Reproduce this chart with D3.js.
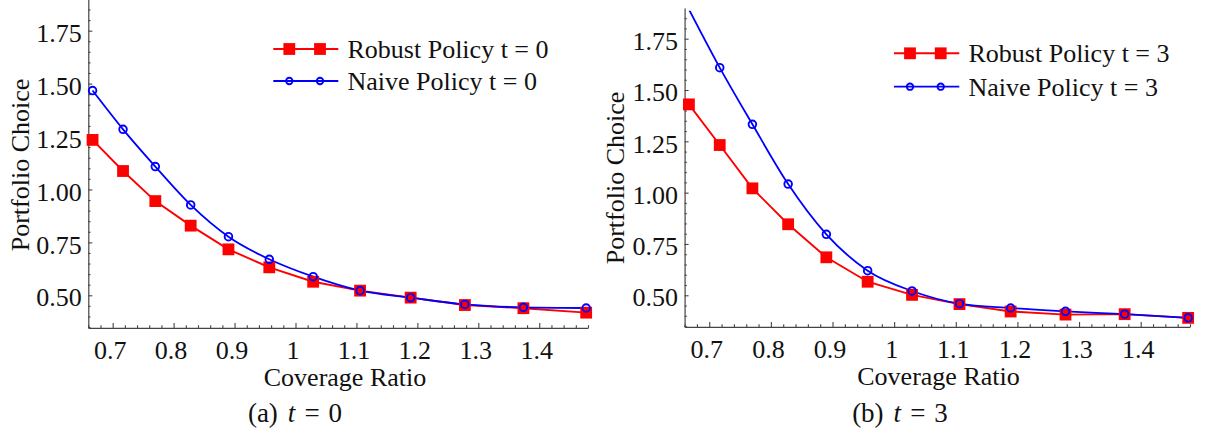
<!DOCTYPE html>
<html>
<head>
<meta charset="utf-8">
<script src="https://cdn.jsdelivr.net/npm/d3@7"></script>
<style>
  html, body { margin: 0; padding: 0; background: #fff; }
  svg { display: block; }
</style>
</head>
<body>
<svg id="chart" width="1206" height="437"></svg>
<script>
// Coverage ratio grid shared by both panels
const coverageRatio = [0.667, 0.717, 0.770, 0.828, 0.890, 0.957, 1.029, 1.106, 1.189, 1.278, 1.374, 1.477];

// Portfolio choice at t = 0
const robustT0 = [1.234, 1.087, 0.945, 0.829, 0.717, 0.632, 0.564, 0.522, 0.489, 0.454, 0.439, 0.418];
const naiveT0  = [1.467, 1.284, 1.108, 0.927, 0.777, 0.670, 0.588, 0.522, 0.489, 0.457, 0.443, 0.440];

// Portfolio choice at t = 3
const robustT3 = [1.430, 1.232, 1.021, 0.846, 0.685, 0.566, 0.502, 0.457, 0.421, 0.406, 0.408, 0.390];
const naiveT3  = [1.893, 1.609, 1.333, 1.042, 0.797, 0.620, 0.521, 0.459, 0.438, 0.422, 0.408, 0.390];

// Axis ticks
const xTickValues = [0.7, 0.8, 0.9, 1.0, 1.1, 1.2, 1.3, 1.4];
const xTickLabels = ["0.7", "0.8", "0.9", "1", "1.1", "1.2", "1.3", "1.4"];
const yTickValues = [0.50, 0.75, 1.00, 1.25, 1.50, 1.75];
const yTickLabels = ["0.50", "0.75", "1.00", "1.25", "1.50", "1.75"];

const xDomain = [0.66, 1.48];
const yDomain = [0.346, 1.9];
const yCeiling = 1.886;   // curves are clipped above this value

const SERIF = '"Liberation Serif", "Times New Roman", Times, serif';
const AXIS_COLOR = "#444";
const TEXT_COLOR = "#111";
const RED = "#ff0000";
const BLUE = "#0000ff";
const FONT_SIZE = 26;

const panels = [
  {
    id: "a", t: "0", robust: robustT0, naive: naiveT0,
    xRange: [88.3, 588.0], yRange: [327.9, -1.1],
    yTitle: { x: 28.5, y: 165 }, xTitle: { x: 345, y: 385.5 }, caption: { x: 295, y: 422 },
    legend: { x0: 273.3, x1: 338.3, marks: [289.3, 320.0], rows: [49, 81], textX: 347.5 }
  },
  {
    id: "b", t: "3", robust: robustT3, naive: naiveT3,
    xRange: [684.6, 1190.0], yRange: [326.9, 7.9],
    yTitle: { x: 624, y: 178 }, xTitle: { x: 938.5, y: 384.5 }, caption: { x: 900, y: 422 },
    legend: { x0: 894.0, x1: 959.3, marks: [910.0, 940.7], rows: [53.3, 86.7], textX: 968.5 }
  }
];

const svg = d3.select("#chart");
const defs = svg.append("defs");

function squareAt(sel, cx, cy, size) {
  sel.append("rect")
    .attr("x", cx - size / 2).attr("y", cy - size / 2)
    .attr("width", size).attr("height", size)
    .attr("fill", RED);
}

function circleAt(sel, cx, cy, r) {
  sel.append("circle")
    .attr("cx", cx).attr("cy", cy).attr("r", r)
    .attr("fill", "none").attr("stroke", BLUE).attr("stroke-width", 1.9);
}

function styleAxis(g) {
  g.attr("font-family", SERIF).attr("font-size", FONT_SIZE);
  g.select(".domain").attr("stroke", AXIS_COLOR).attr("stroke-width", 1.2);
  g.selectAll(".tick line").attr("stroke", AXIS_COLOR).attr("stroke-width", 1.1);
  g.selectAll(".tick text").attr("fill", TEXT_COLOR);
}

panels.forEach((p) => {
  const x = d3.scaleLinear().domain(xDomain).range(p.xRange);
  const y = d3.scaleLinear().domain(yDomain).range(p.yRange);
  const g = svg.append("g").attr("class", "panel-" + p.id);

  const yBottom = p.yRange[0];
  const xLeft = p.xRange[0];

  // minor ticks
  const xMinor = d3.range(0.66, 1.481, 0.02).filter(v => !xTickValues.some(t => Math.abs(t - v) < 1e-6));
  const yMinor = d3.range(0.35, 1.851, 0.05).filter(v => !yTickValues.some(t => Math.abs(t - v) < 1e-6));

  g.append("g").attr("transform", `translate(0,${yBottom})`)
    .call(d3.axisBottom(x).tickValues(xMinor).tickSize(-2.7).tickSizeOuter(0).tickFormat(() => ""))
    .call(s => { s.select(".domain").remove(); s.selectAll(".tick line").attr("stroke", AXIS_COLOR).attr("stroke-width", 1.1); });

  g.append("g").attr("transform", `translate(${xLeft},0)`)
    .call(d3.axisLeft(y).tickValues(yMinor).tickSize(-2.2).tickSizeOuter(0).tickFormat(() => ""))
    .call(s => { s.select(".domain").remove(); s.selectAll(".tick line").attr("stroke", AXIS_COLOR).attr("stroke-width", 1.1); });

  // major axes
  g.append("g").attr("transform", `translate(0,${yBottom})`)
    .call(d3.axisBottom(x).tickValues(xTickValues).tickSize(-5).tickSizeOuter(0)
      .tickFormat((d, i) => xTickLabels[i]))
    .call(styleAxis)
    .call(s => s.selectAll(".tick text").attr("y", 31.3).attr("dy", 0).attr("dx", -3));

  g.append("g").attr("transform", `translate(${xLeft},0)`)
    .call(d3.axisLeft(y).tickValues(yTickValues).tickSize(-4).tickSizeOuter(0).tickPadding(6.5)
      .tickFormat((d, i) => yTickLabels[i]))
    .call(styleAxis)
    .call(s => s.selectAll(".tick text").attr("dy", "0.41em"));

  // clip region for the curves
  const clipId = "clip-" + p.id;
  defs.append("clipPath").attr("id", clipId)
    .append("rect")
    .attr("x", p.xRange[0]).attr("y", y(yCeiling))
    .attr("width", p.xRange[1] - p.xRange[0] + 10)
    .attr("height", yBottom - y(yCeiling) + 10);

  const robustPts = coverageRatio.map((c, i) => [c, p.robust[i]]);
  const naivePts = coverageRatio.map((c, i) => [c, p.naive[i]]);

  const plot = g.append("g").attr("clip-path", `url(#${clipId})`);

  plot.append("path")
    .attr("d", d3.line().x(d => x(d[0])).y(d => y(d[1]))(robustPts))
    .attr("fill", "none").attr("stroke", RED).attr("stroke-width", 1.9);

  const marks = g.append("g");
  robustPts.filter(d => d[1] <= yCeiling).forEach(d => squareAt(marks, x(d[0]), y(d[1]), 11.8));

  plot.append("path")
    .attr("d", d3.line().curve(d3.curveMonotoneX).x(d => x(d[0])).y(d => y(d[1]))(naivePts))
    .attr("fill", "none").attr("stroke", BLUE).attr("stroke-width", 1.8);

  naivePts.filter(d => d[1] <= yCeiling).forEach(d => circleAt(marks, x(d[0]), y(d[1]), 3.8));

  // axis titles
  g.append("text")
    .attr("transform", `translate(${p.yTitle.x},${p.yTitle.y}) rotate(-90)`)
    .attr("text-anchor", "middle")
    .attr("font-family", SERIF).attr("font-size", FONT_SIZE).attr("fill", TEXT_COLOR)
    .text("Portfolio Choice");

  g.append("text")
    .attr("x", p.xTitle.x).attr("y", p.xTitle.y)
    .attr("text-anchor", "middle")
    .attr("font-family", SERIF).attr("font-size", FONT_SIZE).attr("fill", TEXT_COLOR)
    .text("Coverage Ratio");

  // legend
  const L = p.legend;
  const leg = g.append("g");
  leg.append("line").attr("x1", L.x0).attr("x2", L.x1).attr("y1", L.rows[0]).attr("y2", L.rows[0])
    .attr("stroke", RED).attr("stroke-width", 1.9);
  L.marks.forEach(mx => squareAt(leg, mx, L.rows[0], 11.8));
  leg.append("text").attr("x", L.textX).attr("y", L.rows[0] + 9)
    .attr("font-family", SERIF).attr("font-size", FONT_SIZE).attr("fill", TEXT_COLOR)
    .text(`Robust Policy t = ${p.t}`);

  leg.append("line").attr("x1", L.x0).attr("x2", L.x1).attr("y1", L.rows[1]).attr("y2", L.rows[1])
    .attr("stroke", BLUE).attr("stroke-width", 1.8);
  L.marks.forEach(mx => circleAt(leg, mx, L.rows[1], 3.2));
  leg.append("text").attr("x", L.textX).attr("y", L.rows[1] + 9)
    .attr("font-family", SERIF).attr("font-size", FONT_SIZE).attr("fill", TEXT_COLOR)
    .text(`Naive Policy t = ${p.t}`);

  // sub-figure caption
  const cap = g.append("text")
    .attr("x", p.caption.x).attr("y", p.caption.y)
    .attr("text-anchor", "middle")
    .attr("font-family", SERIF).attr("font-size", 27).attr("fill", TEXT_COLOR);
  cap.append("tspan").text(`(${p.id})`);
  cap.append("tspan").attr("dx", 10).attr("font-style", "italic").text("t");
  cap.append("tspan").attr("dx", 9).text("=");
  cap.append("tspan").attr("dx", 9).text(p.t);
});
</script>
</body>
</html>
